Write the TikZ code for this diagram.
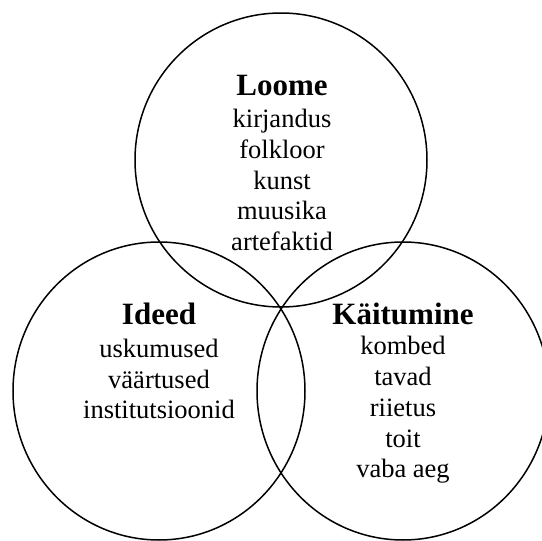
\documentclass[tikz,border=0pt]{standalone}
\usepackage{fontspec}
\setmainfont{Liberation Serif}
\begin{document}
\begin{tikzpicture}[x=1pt,y=-1pt,
  ring/.style={draw=black,line width=1.5pt},
  ttl/.style={font=\bfseries\fontsize{31}{35}\selectfont,inner sep=0pt},
  body/.style={font=\fontsize{26.5}{30.8}\selectfont,align=center,inner sep=0pt}]
\useasboundingbox (0,0) rectangle (542,541);
\draw[ring] (281,160) ellipse[x radius=146,y radius=147];
\draw[ring] (159,391) ellipse[x radius=146,y radius=149];
\draw[ring] (403,391) ellipse[x radius=146,y radius=149];
\node[ttl] (t1) at (282,86) {Loome};
\node[body] (b1) at (282,180) {kirjandus\\folkloor\\kunst\\muusika\\artefaktid};
\node[ttl] (t2) at (159,314) {Ideed};
\node[body] (b2) at (159,379) {uskumused\\väärtused\\institutsioonid};
\node[ttl] (t3) at (403,314) {Käitumine};
\node[body] (b3) at (403,410) {kombed\\tavad\\riietus\\toit\\vaba aeg};
\end{tikzpicture}
\end{document}
